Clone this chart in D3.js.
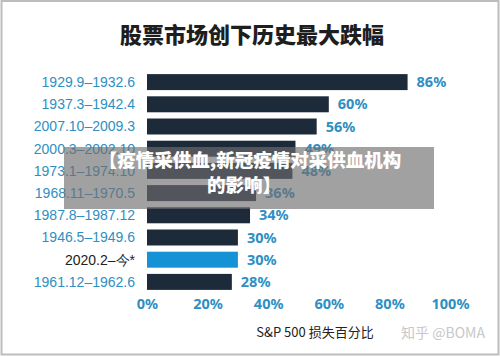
<!DOCTYPE html>
<html><head><meta charset="utf-8">
<script src="https://cdn.jsdelivr.net/npm/d3@7"></script>
<style>body{margin:0;background:#fff}svg{display:block}</style>
</head><body><svg id="c" width="500" height="357"></svg>
<script>
const categories = ["1929.9–1932.6","1937.3–1942.4","2007.10–2009.3","2000.3–2002.10","1973.1–1974.10","1968.11–1970.5","1987.8–1987.12","1946.5–1949.6","2020.2–今*","1961.12–1962.6"];
const values = [86,60,56,49,48,36,34,30,30,28];
const highlight = [false,false,false,false,false,false,false,false,true,false];
const xTicks = [0,20,40,60,80,100];
const title = "股票市场创下历史最大跌幅";
const xLabel = "S&P 500 损失百分比";
const overlayLines = ["【疫情采供血,新冠疫情对采供血机构","的影响】"];
const watermark = "知乎 @BOMA";

const svg = d3.select("#c");
svg.append("rect").attr("x",1.5).attr("y",1).attr("width",497).attr("height",353.5)
  .attr("fill","#fff").attr("stroke","#bdbdbd").attr("stroke-width",2);

svg.append("text").attr("x",252).attr("y",43).attr("text-anchor","middle")
  .attr("font-family","'Noto Sans CJK SC'").attr("font-weight",900).attr("font-size",22)
  .attr("fill","#1e1e1e").text(title);

const x = d3.scaleLinear().domain([0,100]).range([147,450]);
const y = d3.scaleBand().domain(categories).range([71,293]).paddingInner(0.28).paddingOuter(0.14);

svg.selectAll("rect.bar").data(categories).join("rect").attr("class","bar")
  .attr("x",x(0)).attr("y",d=>y(d)).attr("height",y.bandwidth())
  .attr("width",(d,i)=>x(values[i])-x(0))
  .attr("fill",(d,i)=>highlight[i]?"#1592d6":"#1d2a3a");

svg.selectAll("text.cat").data(categories).join("text").attr("class","cat")
  .attr("x",135).attr("y",d=>y(d)+y.bandwidth()/2).attr("dy","0.35em")
  .attr("text-anchor","end").attr("font-family","'Liberation Sans',Arial").attr("font-size",14)
  .attr("fill",(d,i)=>highlight[i]?"#222":"#2e8fc2").text(d=>d);

svg.selectAll("text.val").data(categories).join("text").attr("class","val")
  .attr("x",(d,i)=>x(values[i])+9).attr("y",d=>y(d)+y.bandwidth()/2).attr("dy","0.35em")
  .attr("font-family","'Noto Sans',Lato").attr("font-weight",700).attr("font-size",14.5)
  .attr("fill","#2e8fc2").text((d,i)=>values[i]+"%");

const ax = svg.append("g").attr("transform","translate(0,299)")
  .call(d3.axisBottom(x).tickValues(xTicks).tickFormat(d=>d+"%").tickSize(0).tickPadding(0));
ax.select(".domain").remove();
ax.selectAll("text").attr("dy","0.71em").attr("font-family","'Noto Sans',Lato").attr("font-weight",700)
  .attr("font-size",14.5).attr("fill","#2e8fc2");

svg.append("text").attr("x",315).attr("y",337).attr("text-anchor","middle")
  .attr("font-family","'Noto Sans CJK SC'").attr("font-size",13).attr("fill","#222").text(xLabel);
svg.append("text").attr("x",443).attr("y",338).attr("text-anchor","middle")
  .attr("font-family","'Noto Sans CJK SC'").attr("font-size",14).attr("fill","#c8c8c8").text(watermark);

svg.append("rect").attr("x",64).attr("y",147).attr("width",370).attr("height",62)
  .attr("fill","rgba(110,110,110,0.65)");
svg.selectAll("text.ov").data(overlayLines).join("text").attr("class","ov")
  .attr("x",(d,i)=>i===0?250:244).attr("y",(d,i)=>167+i*25).attr("text-anchor","middle")
  .attr("font-family","'Noto Sans CJK SC'").attr("font-weight",900).attr("font-size",18.5)
  .attr("fill","#fff").text(d=>d);
</script></body></html>
